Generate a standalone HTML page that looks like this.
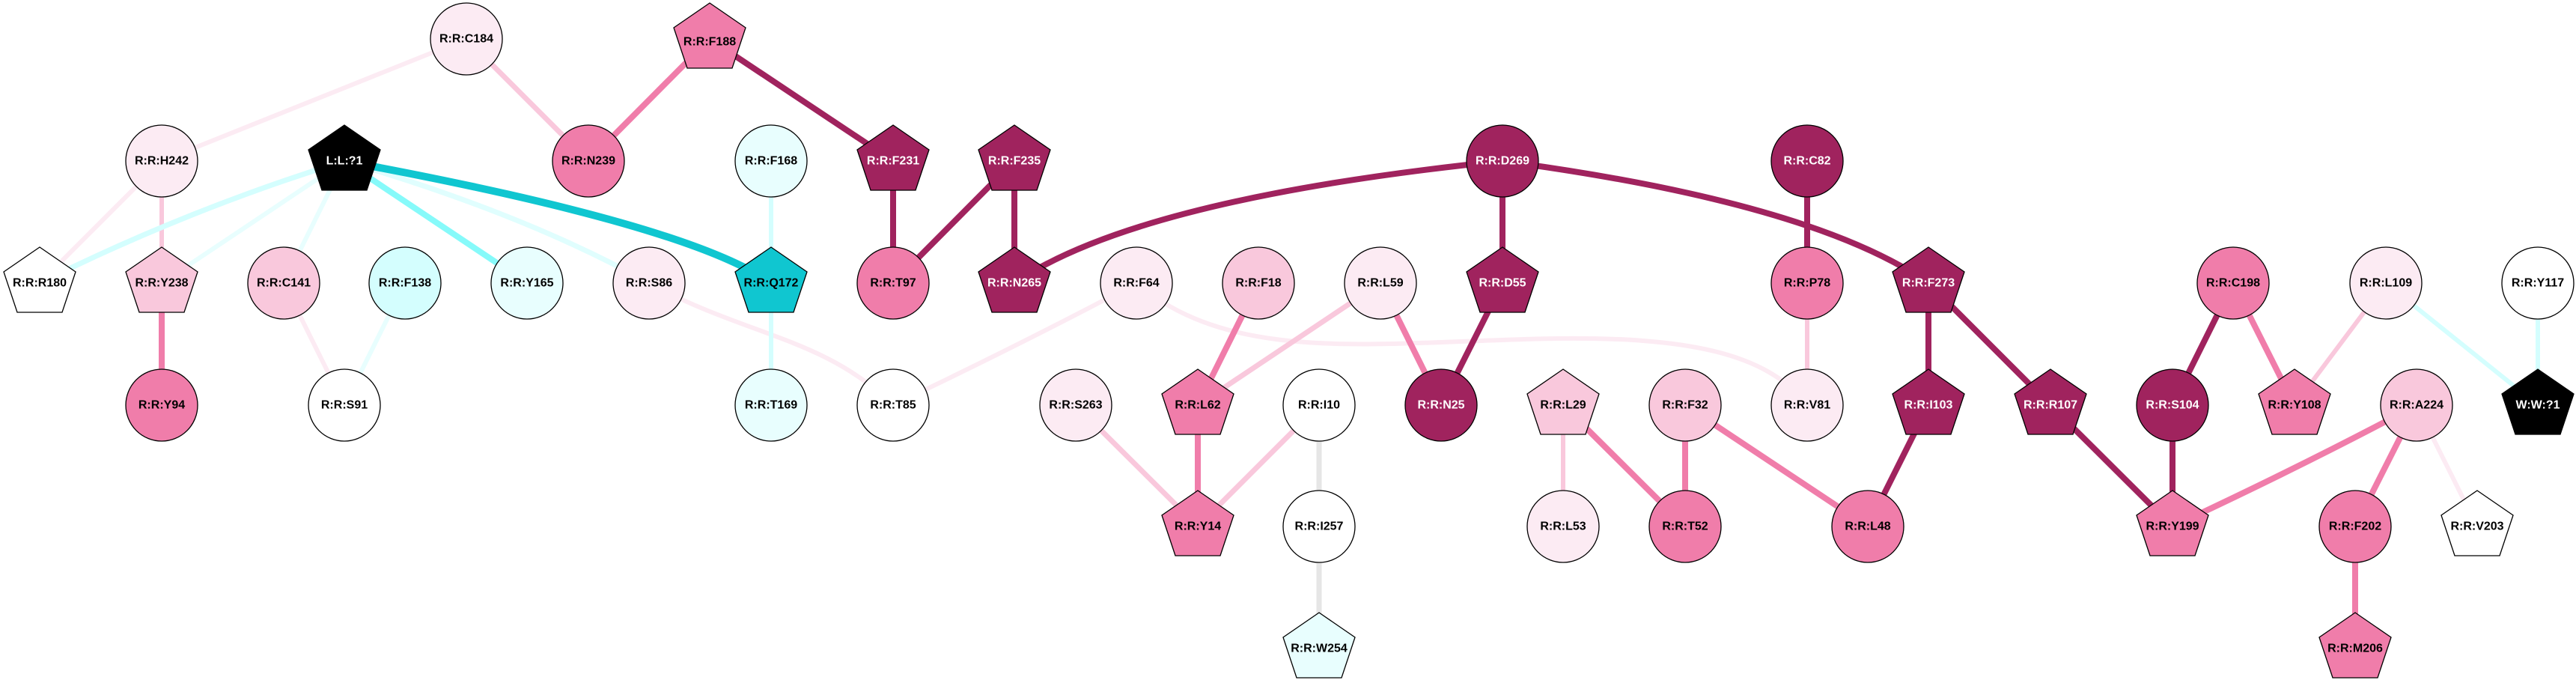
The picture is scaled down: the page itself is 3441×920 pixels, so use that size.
<!DOCTYPE html>
<html><head><meta charset="utf-8"><style>
html,body{margin:0;padding:0;background:#fff}
svg{display:block}
text{font-family:"Liberation Sans",Arial,sans-serif;font-weight:bold;font-size:16px;text-anchor:middle;dominant-baseline:central}
.w{fill:#fff}
</style></head><body>
<svg width="3441" height="920" viewBox="0 0 3441 920" xmlns="http://www.w3.org/2000/svg">
<defs>
<polygon id="p" points="0,-48 48,-15 30,39 -30,39 -48,-15" stroke="#000" stroke-width="1.3"/>
</defs>
<g fill="none" stroke-linecap="butt">
<!-- pink edges -->
<line x1="623" y1="52" x2="216" y2="215" stroke="#fcebf3" stroke-width="6"/>
<line x1="623" y1="52" x2="786" y2="215" stroke="#f9c8dc" stroke-width="7"/>
<line x1="948" y1="52" x2="786" y2="215" stroke="#f07daa" stroke-width="8"/>
<line x1="948" y1="52" x2="1193" y2="215" stroke="#a0235e" stroke-width="8"/>
<line x1="1193" y1="215" x2="1193" y2="378" stroke="#a0235e" stroke-width="8"/>
<line x1="1355" y1="215" x2="1193" y2="378" stroke="#a0235e" stroke-width="8"/>
<line x1="1355" y1="215" x2="1355" y2="378" stroke="#a0235e" stroke-width="8"/>
<path d="M2007,215 Q1520,265 1355,378" stroke="#a0235e" stroke-width="8"/>
<line x1="2007" y1="215" x2="2007" y2="378" stroke="#a0235e" stroke-width="8"/>
<path d="M2007,215 Q2420,270 2576,378" stroke="#a0235e" stroke-width="8"/>
<line x1="2414" y1="215" x2="2414" y2="378" stroke="#a0235e" stroke-width="8"/>
<line x1="2414" y1="378" x2="2414" y2="541" stroke="#f9c8dc" stroke-width="6"/>
<line x1="2576" y1="378" x2="2576" y2="541" stroke="#a0235e" stroke-width="8"/>
<line x1="2576" y1="378" x2="2739" y2="541" stroke="#a0235e" stroke-width="8"/>
<line x1="2576" y1="541" x2="2495" y2="703" stroke="#a0235e" stroke-width="8"/>
<line x1="2739" y1="541" x2="2902" y2="703" stroke="#a0235e" stroke-width="8"/>
<line x1="2902" y1="541" x2="2902" y2="703" stroke="#a0235e" stroke-width="8"/>
<line x1="2983" y1="378" x2="2902" y2="541" stroke="#a0235e" stroke-width="8"/>
<line x1="2983" y1="378" x2="3065" y2="541" stroke="#f07daa" stroke-width="8"/>
<line x1="3187" y1="378" x2="3065" y2="541" stroke="#f9c8dc" stroke-width="6"/>
<line x1="3187" y1="378" x2="3390" y2="541" stroke="#d4fefe" stroke-width="6"/>
<line x1="3390" y1="378" x2="3390" y2="541" stroke="#d4fefe" stroke-width="6"/>
<path d="M3228,541 Q3080,620 2902,703" stroke="#f07daa" stroke-width="8"/>
<line x1="3228" y1="541" x2="3146" y2="703" stroke="#f07daa" stroke-width="8"/>
<line x1="3228" y1="541" x2="3309" y2="703" stroke="#fcebf3" stroke-width="6"/>
<line x1="3146" y1="703" x2="3146" y2="866" stroke="#f07daa" stroke-width="8"/>
<line x1="216" y1="215" x2="53" y2="378" stroke="#fcebf3" stroke-width="6"/>
<line x1="216" y1="215" x2="216" y2="378" stroke="#f9c8dc" stroke-width="6"/>
<line x1="216" y1="378" x2="216" y2="541" stroke="#f07daa" stroke-width="8"/>
<line x1="379" y1="378" x2="460" y2="541" stroke="#fcebf3" stroke-width="6"/>
<line x1="541" y1="378" x2="460" y2="541" stroke="#e8fefe" stroke-width="6"/>
<path d="M867,378 C1000,450 1100,450 1193,541" stroke="#fcebf3" stroke-width="6"/>
<path d="M1193,541 C1300,490 1420,430 1518,378" stroke="#fcebf3" stroke-width="6"/>
<path d="M1518,378 C1650,490 1850,455 2080,452 C2250,450 2360,470 2414,541" stroke="#fcebf3" stroke-width="6"/>
<line x1="1681" y1="378" x2="1600" y2="541" stroke="#f07daa" stroke-width="8"/>
<line x1="1844" y1="378" x2="1600" y2="541" stroke="#f9c8dc" stroke-width="7"/>
<line x1="1844" y1="378" x2="1925" y2="541" stroke="#f07daa" stroke-width="8"/>
<line x1="2007" y1="378" x2="1925" y2="541" stroke="#a0235e" stroke-width="8"/>
<line x1="1437" y1="541" x2="1600" y2="703" stroke="#f9c8dc" stroke-width="7"/>
<line x1="1600" y1="541" x2="1600" y2="703" stroke="#f07daa" stroke-width="8"/>
<line x1="1762" y1="541" x2="1600" y2="703" stroke="#f9c8dc" stroke-width="7"/>
<line x1="1762" y1="541" x2="1762" y2="703" stroke="#e6e6e6" stroke-width="7"/>
<line x1="1762" y1="703" x2="1762" y2="866" stroke="#e6e6e6" stroke-width="7"/>
<line x1="2088" y1="541" x2="2088" y2="703" stroke="#f9c8dc" stroke-width="6"/>
<line x1="2088" y1="541" x2="2251" y2="703" stroke="#f07daa" stroke-width="8"/>
<line x1="2251" y1="541" x2="2251" y2="703" stroke="#f07daa" stroke-width="8"/>
<line x1="2251" y1="541" x2="2495" y2="703" stroke="#f07daa" stroke-width="8"/>
<!-- cyan edges -->
<path d="M460,215 Q250,280 53,378" stroke="#d4fefe" stroke-width="7"/>
<line x1="460" y1="215" x2="216" y2="378" stroke="#e8fefe" stroke-width="6"/>
<line x1="460" y1="215" x2="379" y2="378" stroke="#e8fefe" stroke-width="6"/>
<line x1="460" y1="215" x2="704" y2="378" stroke="#86fafa" stroke-width="8"/>
<path d="M460,215 Q700,285 867,378" stroke="#e0fefe" stroke-width="7"/>
<line x1="1030" y1="215" x2="1030" y2="378" stroke="#d4fefe" stroke-width="6"/>
<line x1="1030" y1="378" x2="1030" y2="541" stroke="#d4fefe" stroke-width="6"/>
<path d="M460,215 Q920,300 1030,378" stroke="#10c6d0" stroke-width="10"/>
</g>
<g>
<!-- row 0 -->
<ellipse cx="623" cy="52" rx="48" ry="48" fill="#fcebf3" stroke="#000" stroke-width="1.3"/><text x="623" y="52">R:R:C184</text>
<g transform="translate(948,52)"><use href="#p" fill="#f07daa"/><text y="4">R:R:F188</text></g>
<!-- row 1 -->
<ellipse cx="216" cy="215" rx="48" ry="48" fill="#fcebf3" stroke="#000" stroke-width="1.3"/><text x="216" y="215">R:R:H242</text>
<g transform="translate(460,215)"><use href="#p" fill="#000"/><text y="0" class="w">L:L:?1</text></g>
<ellipse cx="786" cy="215" rx="48" ry="48" fill="#f07daa" stroke="#000" stroke-width="1.3"/><text x="786" y="215">R:R:N239</text>
<ellipse cx="1030" cy="215" rx="48" ry="48" fill="#e8fefe" stroke="#000" stroke-width="1.3"/><text x="1030" y="215">R:R:F168</text>
<g transform="translate(1193,215)"><use href="#p" fill="#a0235e"/><text class="w">R:R:F231</text></g>
<g transform="translate(1355,215)"><use href="#p" fill="#a0235e"/><text class="w">R:R:F235</text></g>
<ellipse cx="2007" cy="215" rx="48" ry="48" fill="#a0235e" stroke="#000" stroke-width="1.3"/><text x="2007" y="215" class="w">R:R:D269</text>
<ellipse cx="2414" cy="215" rx="48" ry="48" fill="#a0235e" stroke="#000" stroke-width="1.3"/><text x="2414" y="215" class="w">R:R:C82</text>
<!-- row 2 -->
<g transform="translate(53,378)"><use href="#p" fill="#fff"/><text>R:R:R180</text></g>
<g transform="translate(216,378)"><use href="#p" fill="#f9c8dc"/><text>R:R:Y238</text></g>
<ellipse cx="379" cy="378" rx="48" ry="48" fill="#f9c8dc" stroke="#000" stroke-width="1.3"/><text x="379" y="378">R:R:C141</text>
<ellipse cx="541" cy="378" rx="48" ry="48" fill="#d4fefe" stroke="#000" stroke-width="1.3"/><text x="541" y="378">R:R:F138</text>
<ellipse cx="704" cy="378" rx="48" ry="48" fill="#e8fefe" stroke="#000" stroke-width="1.3"/><text x="704" y="378">R:R:Y165</text>
<ellipse cx="867" cy="378" rx="48" ry="48" fill="#fcebf3" stroke="#000" stroke-width="1.3"/><text x="867" y="378">R:R:S86</text>
<g transform="translate(1030,378)"><use href="#p" fill="#10c6d0"/><text>R:R:Q172</text></g>
<ellipse cx="1193" cy="378" rx="48" ry="48" fill="#f07daa" stroke="#000" stroke-width="1.3"/><text x="1193" y="378">R:R:T97</text>
<g transform="translate(1355,378)"><use href="#p" fill="#a0235e"/><text class="w">R:R:N265</text></g>
<ellipse cx="1518" cy="378" rx="48" ry="48" fill="#fcebf3" stroke="#000" stroke-width="1.3"/><text x="1518" y="378">R:R:F64</text>
<ellipse cx="1681" cy="378" rx="48" ry="48" fill="#f9c8dc" stroke="#000" stroke-width="1.3"/><text x="1681" y="378">R:R:F18</text>
<ellipse cx="1844" cy="378" rx="48" ry="48" fill="#fcebf3" stroke="#000" stroke-width="1.3"/><text x="1844" y="378">R:R:L59</text>
<g transform="translate(2007,378)"><use href="#p" fill="#a0235e"/><text class="w">R:R:D55</text></g>
<ellipse cx="2414" cy="378" rx="48" ry="48" fill="#f07daa" stroke="#000" stroke-width="1.3"/><text x="2414" y="378">R:R:P78</text>
<g transform="translate(2576,378)"><use href="#p" fill="#a0235e"/><text class="w">R:R:F273</text></g>
<ellipse cx="2983" cy="378" rx="48" ry="48" fill="#f07daa" stroke="#000" stroke-width="1.3"/><text x="2983" y="378">R:R:C198</text>
<ellipse cx="3187" cy="378" rx="48" ry="48" fill="#fcebf3" stroke="#000" stroke-width="1.3"/><text x="3187" y="378">R:R:L109</text>
<ellipse cx="3390" cy="378" rx="48" ry="48" fill="#fff" stroke="#000" stroke-width="1.3"/><text x="3390" y="378">R:R:Y117</text>
<!-- row 3 -->
<ellipse cx="216" cy="541" rx="48" ry="48" fill="#f07daa" stroke="#000" stroke-width="1.3"/><text x="216" y="541">R:R:Y94</text>
<ellipse cx="460" cy="541" rx="48" ry="48" fill="#fff" stroke="#000" stroke-width="1.3"/><text x="460" y="541">R:R:S91</text>
<ellipse cx="1030" cy="541" rx="48" ry="48" fill="#e8fefe" stroke="#000" stroke-width="1.3"/><text x="1030" y="541">R:R:T169</text>
<ellipse cx="1193" cy="541" rx="48" ry="48" fill="#fff" stroke="#000" stroke-width="1.3"/><text x="1193" y="541">R:R:T85</text>
<ellipse cx="1437" cy="541" rx="48" ry="48" fill="#fcebf3" stroke="#000" stroke-width="1.3"/><text x="1437" y="541">R:R:S263</text>
<g transform="translate(1600,541)"><use href="#p" fill="#f07daa"/><text>R:R:L62</text></g>
<ellipse cx="1762" cy="541" rx="48" ry="48" fill="#fff" stroke="#000" stroke-width="1.3"/><text x="1762" y="541">R:R:I10</text>
<ellipse cx="1925" cy="541" rx="48" ry="48" fill="#a0235e" stroke="#000" stroke-width="1.3"/><text x="1925" y="541" class="w">R:R:N25</text>
<g transform="translate(2088,541)"><use href="#p" fill="#f9c8dc"/><text>R:R:L29</text></g>
<ellipse cx="2251" cy="541" rx="48" ry="48" fill="#f9c8dc" stroke="#000" stroke-width="1.3"/><text x="2251" y="541">R:R:F32</text>
<ellipse cx="2414" cy="541" rx="48" ry="48" fill="#fcebf3" stroke="#000" stroke-width="1.3"/><text x="2414" y="541">R:R:V81</text>
<g transform="translate(2576,541)"><use href="#p" fill="#a0235e"/><text class="w">R:R:I103</text></g>
<g transform="translate(2739,541)"><use href="#p" fill="#a0235e"/><text class="w">R:R:R107</text></g>
<ellipse cx="2902" cy="541" rx="48" ry="48" fill="#a0235e" stroke="#000" stroke-width="1.3"/><text x="2902" y="541" class="w">R:R:S104</text>
<g transform="translate(3065,541)"><use href="#p" fill="#f07daa"/><text>R:R:Y108</text></g>
<ellipse cx="3228" cy="541" rx="48" ry="48" fill="#f9c8dc" stroke="#000" stroke-width="1.3"/><text x="3228" y="541">R:R:A224</text>
<g transform="translate(3390,541)"><use href="#p" fill="#000"/><text class="w">W:W:?1</text></g>
<!-- row 4 -->
<g transform="translate(1600,703)"><use href="#p" fill="#f07daa"/><text>R:R:Y14</text></g>
<ellipse cx="1762" cy="703" rx="48" ry="48" fill="#fff" stroke="#000" stroke-width="1.3"/><text x="1762" y="703">R:R:I257</text>
<ellipse cx="2088" cy="703" rx="48" ry="48" fill="#fcebf3" stroke="#000" stroke-width="1.3"/><text x="2088" y="703">R:R:L53</text>
<ellipse cx="2251" cy="703" rx="48" ry="48" fill="#f07daa" stroke="#000" stroke-width="1.3"/><text x="2251" y="703">R:R:T52</text>
<ellipse cx="2495" cy="703" rx="48" ry="48" fill="#f07daa" stroke="#000" stroke-width="1.3"/><text x="2495" y="703">R:R:L48</text>
<g transform="translate(2902,703)"><use href="#p" fill="#f07daa"/><text>R:R:Y199</text></g>
<ellipse cx="3146" cy="703" rx="48" ry="48" fill="#f07daa" stroke="#000" stroke-width="1.3"/><text x="3146" y="703">R:R:F202</text>
<g transform="translate(3309,703)"><use href="#p" fill="#fff"/><text>R:R:V203</text></g>
<!-- row 5 -->
<g transform="translate(1762,866)"><use href="#p" fill="#e8fefe"/><text>R:R:W254</text></g>
<g transform="translate(3146,866)"><use href="#p" fill="#f07daa"/><text>R:R:M206</text></g>
</g>
</svg>
</body></html>
